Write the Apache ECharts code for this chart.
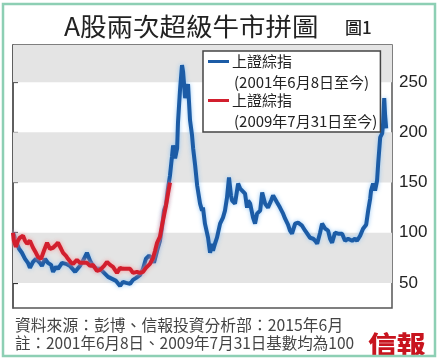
<!DOCTYPE html>
<html>
<head>
<meta charset="utf-8">
<script src="https://cdn.jsdelivr.net/npm/echarts@6/dist/echarts.min.js"></script>
<style>
html,body{margin:0;padding:0;background:#fff;}
#c{width:439px;height:359px;}
</style>
</head>
<body>
<div id="c"></div>
<script>
// Months elapsed since each series' base date (base = 100)
const blueMonths = [0,1.3,2.7,4.0,5.4,6.7,7.6,9.0,10.3,12.1,13.0,14.4,15.7,17.1,18.0,19.3,20.2,22.0,23.8,25.6,27.9,30.1,31.9,33.2,34.6,35.9,37.7,39.1,40.9,42.7,44.5,46.3,48.1,49.4,50.8,52.6,53.9,55.3,57.1,58.4,59.7,61.1,62.4,63.3,64.7,66.0,66.9,67.8,68.7,69.6,70.5,71.4,71.9,72.8,73.7,74.1,75.0,75.9,76.4,77.3,78.2,78.6,79.5,80.4,80.9,81.8,82.7,84.0,84.9,85.3,86.2,87.6,88.5,89.4,89.8,90.7,91.6,93.0,94.3,95.2,96.1,97.0,97.9,98.4,99.7,101.1,102.0,102.9,104.2,105.1,105.6,106.5,107.8,108.7,109.6,111.0,111.9,113.2,114.5,115.9,116.8,118.6,119.9,121.3,122.2,123.5,124.4,125.3,126.7,128.0,129.8,131.2,133.4,134.8,135.7,136.6,137.9,138.8,140.2,141.5,142.4,143.3,144.6,146.0,147.8,149.1,150.5,152.3,153.6,154.5,155.9,157.2,158.6,159.5,160.4,160.8,161.7,162.6,163.5,164.0,164.9,165.8,166.2,166.7,167.1,167.6];
const blueValues = [100,92,84,80,74,70,65,71,74,70,67,74,70,68,61,66,64,70,69,67,61,67,74,80,72,67,64,64,60,56,54,52,47,51,50,49,53,55,58,64,74,77,75,70,82,92,105,122,128,144,157,176,187,174,184,210,242,267,260,234,244,248,212,197,184,167,147,129,122,125,109,95,80,89,82,89,95,109,115,122,135,155,137,132,129,149,144,142,139,125,132,129,115,109,119,122,140,129,125,132,137,130,125,119,114,108,102,99,109,110,107,102,95,94,92,89,100,109,104,102,94,90,100,99,99,92,94,92,94,92,97,104,108,122,134,142,149,142,152,169,195,199,209,234,217,204];

const redMonths = [0,0.4,1.3,2.2,3.1,4.5,5.4,6.3,7.6,9.0,10.3,11.2,12.6,13.9,15.3,16.6,18.0,18.9,20.2,21.6,22.5,23.8,24.7,26.1,27.0,28.7,30.1,31.4,33.2,34.6,35.9,37.7,39.1,40.9,42.2,43.6,44.9,46.7,48.1,49.4,51.2,52.6,53.9,55.7,57.1,58.4,59.7,61.5,62.9,63.8,64.7,66.0,66.9,67.8,68.7,69.6,70.5];
const redValues = [100,92,86,92,95,97,92,89,92,85,80,76,74,82,90,84,85,87,90,84,80,77,74,70,69,73,70,70,70,67,68,62,63,67,71,68,66,60,65,64,64,64,60,61,60,61,65,69,75,82,90,96,107,117,127,139,150];

const yTicks = [50,100,150,200,250];
const seriesNames = ['上證綜指(2001年6月8日至今)','上證綜指(2009年7月31日至今)'];
const legendLines = [['上證綜指','(2001年6月8日至今)'],['上證綜指','(2009年7月31日至今)']];
const titleText = 'A股兩次超級牛市拼圖';
const figText = '圖1';
const sourceText = '資料來源：彭博、信報投資分析部：2015年6月';
const noteText = '註：2001年6月8日、2009年7月31日基數均為100';
const logoText = '信報';

const BLUE = '#1c5ca6';
const RED = '#d21f2e';
const CJK = '"Noto Sans CJK TC","Noto Sans CJK SC",sans-serif';

const chart = echarts.init(document.getElementById('c'), null, {renderer:'canvas'});
chart.setOption({
  animation: false,
  backgroundColor: '#fff',
  grid: {left: 13, top: 45, right: 47, bottom: 51, show: true, borderColor: '#555', borderWidth: 1.5, backgroundColor: 'transparent'},
  xAxis: {type: 'value', min: 0, max: 170.2, show: true,
    axisLine: {show: false}, axisTick: {show: false}, axisLabel: {show: false}, splitLine: {show: false}},
  yAxis: {type: 'value', position: 'right', min: 25, max: 287,
    axisLine: {show: true, lineStyle: {color: '#555', width: 1.5}},
    axisTick: {show: true, customValues: yTicks, length: 5, lineStyle: {color: '#333', width: 1.2}},
    axisLabel: {show: true, customValues: yTicks, margin: 7, fontSize: 17, color: '#222', fontFamily: '"Liberation Sans", Arial, sans-serif'},
    splitLine: {show: false}},
  legend: {
    orient: 'vertical', left: 203, top: 51,
    backgroundColor: '#fff', borderColor: '#444', borderWidth: 1.5, borderRadius: 0,
    padding: [3, 3, 3, 0], itemGap: 3, icon: 'none', itemWidth: 0, itemHeight: 0,
    selectedMode: false,
    data: seriesNames,
    formatter: function (name) {
      const i = seriesNames.indexOf(name);
      const tag = i === 0 ? 'lb' : 'lr';
      return '{' + tag + '|}{t|' + legendLines[i][0] + '}\n{sp|}{t|' + legendLines[i][1] + '}';
    },
    textStyle: {
      rich: {
        lb: {width: 21, height: 3, backgroundColor: BLUE},
        lr: {width: 21, height: 3, backgroundColor: RED},
        sp: {width: 23, height: 3},
        t: {fontSize: 15, lineHeight: 21, color: '#222', fontFamily: CJK, padding: [0, 0, 0, 3]}
      }
    }
  },
  series: [
    {name: seriesNames[0], type: 'line', symbol: 'none', z: 3,
      data: blueMonths.map((m, i) => [m, blueValues[i]]),
      lineStyle: {color: BLUE, width: 4, shadowColor: 'rgba(140,195,245,0.9)', shadowBlur: 4},
      itemStyle: {color: BLUE},
      markArea: {silent: true, itemStyle: {color: '#e4e4e4'},
        data: [[{yAxis: 50}, {yAxis: 100}], [{yAxis: 150}, {yAxis: 200}], [{yAxis: 250}, {yAxis: 287}]]}
    },
    {name: seriesNames[1], type: 'line', symbol: 'none', z: 4,
      data: redMonths.map((m, i) => [m, redValues[i]]),
      lineStyle: {color: RED, width: 4, shadowColor: 'rgba(250,150,150,0.9)', shadowBlur: 4},
      itemStyle: {color: RED}
    }
  ],
  graphic: [
    {type: 'rect', shape: {x: 3, y: 4, width: 432, height: 352}, style: {fill: 'none', stroke: '#8dcfb4', lineWidth: 2.5}, silent: true, z: 100},
    {type: 'text', x: 64, y: 26, scaleX: 1.06, style: {text: titleText, font: '25px ' + CJK, fill: '#222', textVerticalAlign: 'middle'}},
    {type: 'text', x: 345, y: 28, style: {text: figText, font: '500 17px ' + CJK, fill: '#222', textVerticalAlign: 'middle'}},
    {type: 'text', x: 15, y: 325, style: {text: sourceText, font: '15.8px ' + CJK, fill: '#444', textVerticalAlign: 'middle'}},
    {type: 'text', x: 15, y: 343, style: {text: noteText, font: '15.5px ' + CJK, fill: '#444', textVerticalAlign: 'middle'}},
    {type: 'text', x: 368, y: 344, scaleX: 1.2, style: {text: logoText, font: '900 24px ' + CJK, fill: '#c8141e', textVerticalAlign: 'middle'}}
  ]
});
</script>
</body>
</html>
